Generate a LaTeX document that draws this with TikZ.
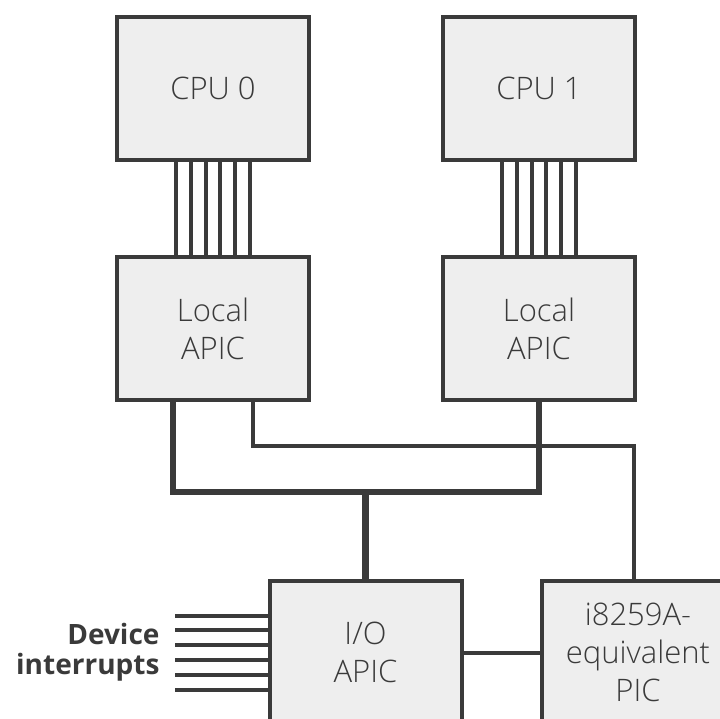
\documentclass[tikz,border=0pt]{standalone}
\usepackage{fontspec}
\setmainfont{Open Sans}[UprightFont=* Light, BoldFont=* Bold]
\usetikzlibrary{positioning}
\definecolor{wireGrey}{RGB}{58,58,58}
\definecolor{boxFill}{RGB}{238,238,238}

\begin{document}
\begin{tikzpicture}[
    x=1pt, y=-1pt,
    box/.style={rectangle, draw=wireGrey, line width=4pt, fill=boxFill, minimum width=192pt, minimum height=143pt, align=center, text=wireGrey, font=\fontsize{31}{38}\selectfont},
    wire/.style={draw=wireGrey, line width=4pt},
    bus/.style={draw=wireGrey, line width=6.5pt, line join=miter},
    link/.style={draw=wireGrey, line width=4pt, line join=miter},
    irqlabel/.style={align=right, text=wireGrey, font=\bfseries\fontsize{28}{30}\selectfont}
]
\useasboundingbox (0,0) rectangle (720,718);
\clip (0,0) rectangle (720,718);

% CPUs and their local APICs
\node[box] (cpu0) at (213,88.5) {CPU 0};
\node[box] (cpu1) at (539,88.5) {CPU 1};
\node[box] (apic0) at (213,328.5) {Local\\APIC};
\node[box] (apic1) at (539,328.5) {Local\\APIC};

% I/O side
\node[box] (ioapic) at (365.5,652.5) {I/O\\APIC};
\node[box] (pic) at (638,652.5) {i8259A-\\equivalent\\PIC};

% Bundles between CPU and local APIC
\foreach \o in {-37,-22.2,-7.4,7.4,22.2,37} {
    \draw[wire] ([xshift=\o pt]cpu0.south) -- ([xshift=\o pt]apic0.north);
    \draw[wire] ([xshift=\o pt]cpu1.south) -- ([xshift=\o pt]apic1.north);
}

% APIC bus
\coordinate (bus) at (365.5,492);
\draw[bus] ([xshift=-40pt]apic0.south) |- (bus) -| (apic1.south);
\draw[bus] (bus) -- (ioapic.north);

% Line to the PIC
\coordinate (piclink) at (634,446);
\draw[link] ([xshift=40pt]apic0.south) |- (piclink) -- (piclink |- pic.north);
\draw[link] (ioapic.east) -- (pic.west);

% Device interrupts
\coordinate (irq) at (175,652.5);
\foreach \o in {-37,-22.2,-7.4,7.4,22.2,37} {
    \draw[wire] ([yshift=\o pt]irq) -- ([yshift=\o pt]irq -| ioapic.west);
}
\node[irqlabel, left=12pt of irq] (irqtext) {Device\\interrupts};

\end{tikzpicture}
\end{document}
